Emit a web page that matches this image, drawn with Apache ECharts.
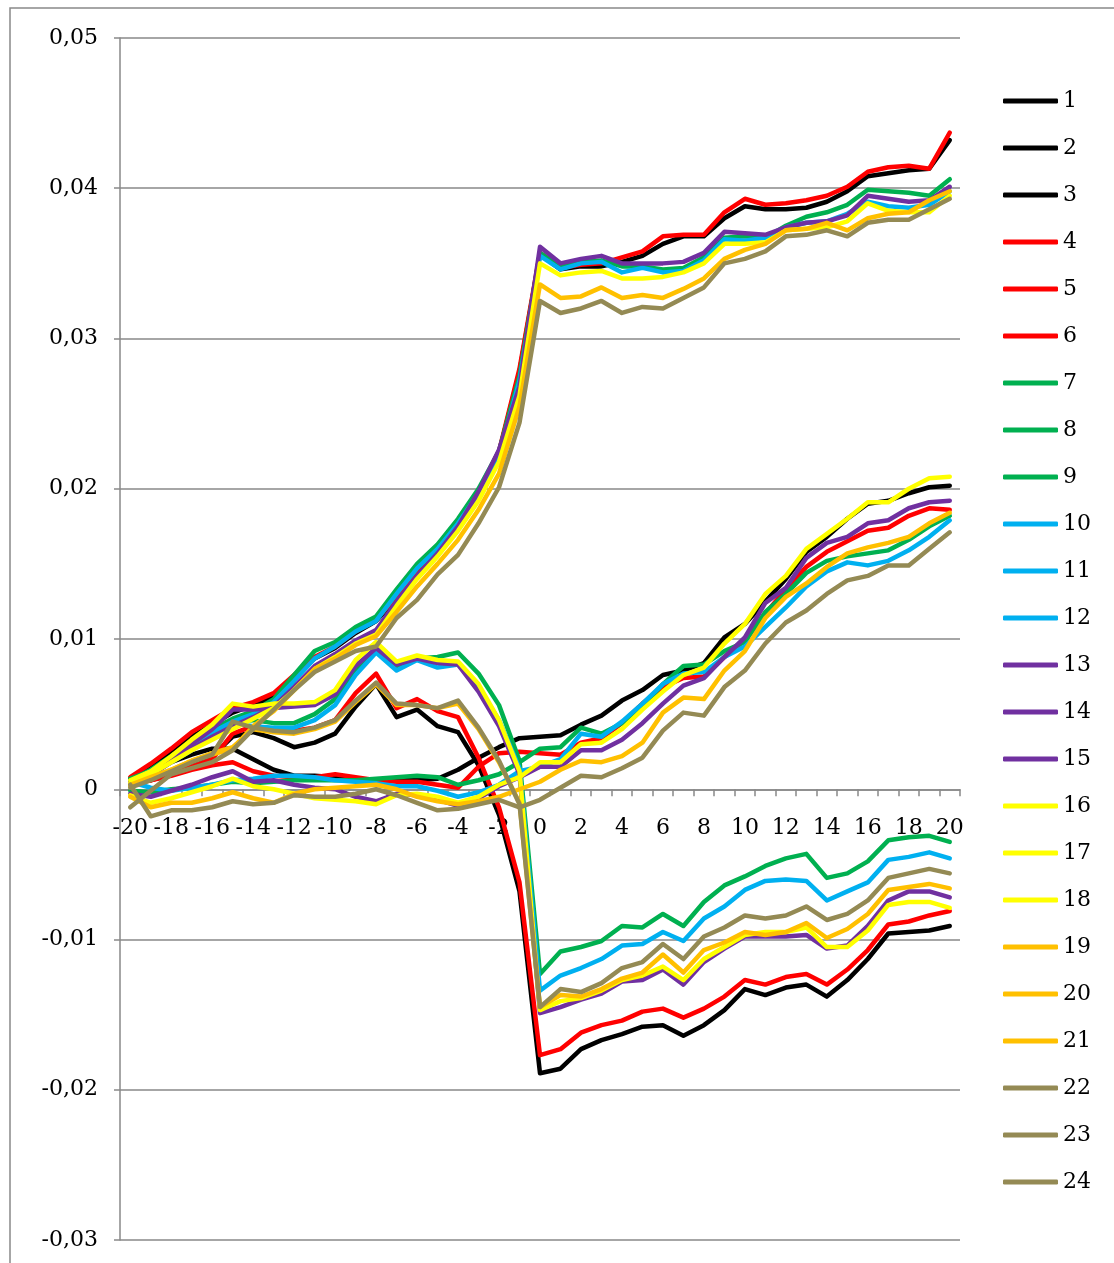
<!DOCTYPE html>
<html>
<head>
<meta charset="utf-8">
<script src="https://cdn.jsdelivr.net/npm/echarts@6/dist/echarts.min.js"></script>
<style>
  html, body { margin: 0; padding: 0; background: #ffffff; }
  #chart { width: 1114px; height: 1263px; }
</style>
</head>
<body>
<div id="chart"></div>
<script>
// Event window, days relative to the event
const categories = ['-20','-19','-18','-17','-16','-15','-14','-13','-12','-11','-10','-9','-8','-7','-6','-5','-4','-3','-2','-1',
  '0','1','2','3','4','5','6','7','8','9','10','11','12','13','14','15','16','17','18','19','20'];

const s01 = [0.0007,0.0015,0.0025,0.0035,0.0043,0.0051,0.0056,0.0062,0.0075,0.0087,0.0094,0.0104,0.0112,0.0127,0.0144,0.0159,0.0177,0.0197,0.0224,0.0278,
  0.0356,0.0346,0.0348,0.0348,0.0351,0.0355,0.0363,0.0368,0.0368,0.0380,0.0388,0.0386,0.0386,0.0387,0.0391,0.0398,0.0408,0.0410,0.0412,0.0413,0.0432];
const s02 = [0.0006,0.0012,0.0018,0.0023,0.0027,0.0027,0.0020,0.0013,0.0009,0.0009,0.0008,0.0007,0.0006,0.0006,0.0006,0.0007,0.0013,0.0021,0.0028,0.0034,
  0.0035,0.0036,0.0043,0.0049,0.0059,0.0066,0.0076,0.0079,0.0084,0.0101,0.0110,0.0125,0.0140,0.0158,0.0168,0.0180,0.0190,0.0192,0.0197,0.0201,0.0202];
const s03 = [0.0003,0.0006,0.0011,0.0017,0.0022,0.0035,0.0038,0.0034,0.0028,0.0031,0.0037,0.0055,0.0070,0.0048,0.0053,0.0042,0.0038,0.0016,-0.0017,-0.0068,
  -0.0189,-0.0186,-0.0173,-0.0167,-0.0163,-0.0158,-0.0157,-0.0164,-0.0157,-0.0147,-0.0133,-0.0137,-0.0132,-0.0130,-0.0138,-0.0127,-0.0113,-0.0096,-0.0095,-0.0094,-0.0091];
const s04 = [0.0008,0.0017,0.0027,0.0038,0.0046,0.0054,0.0058,0.0064,0.0076,0.0088,0.0095,0.0105,0.0113,0.0128,0.0145,0.0160,0.0178,0.0198,0.0225,0.0280,
  0.0357,0.0347,0.0349,0.0350,0.0354,0.0358,0.0368,0.0369,0.0369,0.0384,0.0393,0.0389,0.0390,0.0392,0.0395,0.0401,0.0411,0.0414,0.0415,0.0413,0.0437];
const s05 = [0.0005,0.0006,0.0009,0.0013,0.0016,0.0018,0.0012,0.0009,0.0008,0.0008,0.0010,0.0008,0.0006,0.0005,0.0005,0.0003,0.0001,0.0015,0.0024,0.0025,
  0.0024,0.0023,0.0031,0.0034,0.0044,0.0057,0.0068,0.0074,0.0075,0.0088,0.0099,0.0117,0.0133,0.0148,0.0158,0.0165,0.0172,0.0174,0.0182,0.0187,0.0186];
const s06 = [0.0004,0.0006,0.0010,0.0015,0.0020,0.0037,0.0042,0.0039,0.0039,0.0041,0.0046,0.0064,0.0077,0.0054,0.0060,0.0052,0.0048,0.0021,-0.0012,-0.0062,
  -0.0177,-0.0173,-0.0162,-0.0157,-0.0154,-0.0148,-0.0146,-0.0152,-0.0146,-0.0138,-0.0127,-0.0130,-0.0125,-0.0123,-0.0130,-0.0120,-0.0107,-0.0090,-0.0088,-0.0084,-0.0081];
const s07 = [0.0006,0.0013,0.0022,0.0031,0.0040,0.0047,0.0052,0.0060,0.0076,0.0092,0.0098,0.0108,0.0115,0.0133,0.0150,0.0163,0.0180,0.0200,0.0225,0.0275,
  0.0357,0.0348,0.0351,0.0352,0.0348,0.0348,0.0346,0.0347,0.0354,0.0367,0.0368,0.0367,0.0375,0.0381,0.0384,0.0389,0.0399,0.0398,0.0397,0.0395,0.0406];
const s08 = [-0.0001,-0.0002,0.0000,0.0001,0.0003,0.0005,0.0004,0.0005,0.0006,0.0006,0.0006,0.0006,0.0007,0.0008,0.0009,0.0008,0.0003,0.0006,0.0010,0.0018,
  0.0027,0.0028,0.0041,0.0037,0.0044,0.0055,0.0070,0.0082,0.0083,0.0092,0.0098,0.0118,0.0130,0.0144,0.0152,0.0155,0.0157,0.0159,0.0166,0.0175,0.0182];
const s09 = [0.0007,0.0012,0.0020,0.0028,0.0036,0.0045,0.0046,0.0044,0.0044,0.0050,0.0060,0.0080,0.0093,0.0082,0.0087,0.0088,0.0091,0.0077,0.0056,0.0019,
  -0.0123,-0.0108,-0.0105,-0.0101,-0.0091,-0.0092,-0.0083,-0.0091,-0.0075,-0.0064,-0.0058,-0.0051,-0.0046,-0.0043,-0.0059,-0.0056,-0.0048,-0.0034,-0.0032,-0.0031,-0.0035];
const s10 = [0.0005,0.0012,0.0020,0.0029,0.0038,0.0045,0.0050,0.0058,0.0072,0.0087,0.0095,0.0105,0.0112,0.0130,0.0147,0.0160,0.0177,0.0197,0.0222,0.0272,
  0.0355,0.0346,0.0350,0.0351,0.0344,0.0347,0.0344,0.0345,0.0352,0.0366,0.0365,0.0367,0.0374,0.0377,0.0378,0.0383,0.0391,0.0388,0.0387,0.0389,0.0398];
const s11 = [0.0005,0.0001,-0.0001,0.0001,0.0003,0.0006,0.0007,0.0009,0.0009,0.0008,0.0006,0.0005,0.0004,0.0002,0.0002,-0.0001,-0.0005,-0.0002,0.0003,0.0012,
  0.0015,0.0020,0.0037,0.0035,0.0045,0.0057,0.0070,0.0077,0.0078,0.0088,0.0095,0.0108,0.0121,0.0135,0.0145,0.0151,0.0149,0.0152,0.0159,0.0168,0.0179];
const s12 = [0.0005,0.0010,0.0018,0.0026,0.0035,0.0044,0.0042,0.0041,0.0041,0.0046,0.0056,0.0076,0.0091,0.0079,0.0086,0.0081,0.0083,0.0068,0.0046,0.0014,
  -0.0134,-0.0124,-0.0119,-0.0113,-0.0104,-0.0103,-0.0095,-0.0101,-0.0086,-0.0078,-0.0067,-0.0061,-0.0060,-0.0061,-0.0074,-0.0068,-0.0062,-0.0047,-0.0045,-0.0042,-0.0046];
const s13 = [0.0005,0.0011,0.0019,0.0027,0.0035,0.0042,0.0048,0.0055,0.0068,0.0082,0.0090,0.0099,0.0106,0.0125,0.0142,0.0157,0.0175,0.0198,0.0226,0.0268,
  0.0361,0.0350,0.0353,0.0355,0.0350,0.0350,0.0350,0.0351,0.0357,0.0371,0.0370,0.0369,0.0374,0.0377,0.0378,0.0382,0.0395,0.0393,0.0391,0.0392,0.0401];
const s14 = [-0.0003,-0.0005,-0.0001,0.0003,0.0008,0.0012,0.0005,0.0006,0.0003,0.0001,0.0000,-0.0005,-0.0008,-0.0003,-0.0004,-0.0007,-0.0011,-0.0006,0.0002,0.0008,
  0.0015,0.0015,0.0026,0.0026,0.0033,0.0044,0.0057,0.0069,0.0074,0.0088,0.0101,0.0124,0.0134,0.0154,0.0164,0.0168,0.0177,0.0179,0.0187,0.0191,0.0192];
const s15 = [0.0004,0.0009,0.0018,0.0030,0.0040,0.0053,0.0053,0.0054,0.0055,0.0056,0.0063,0.0082,0.0094,0.0083,0.0087,0.0084,0.0083,0.0065,0.0042,0.0010,
  -0.0149,-0.0145,-0.0140,-0.0136,-0.0128,-0.0127,-0.0120,-0.0130,-0.0115,-0.0106,-0.0098,-0.0098,-0.0098,-0.0097,-0.0106,-0.0104,-0.0091,-0.0074,-0.0068,-0.0068,-0.0072];
const s16 = [0.0004,0.0010,0.0018,0.0026,0.0033,0.0040,0.0047,0.0054,0.0066,0.0080,0.0088,0.0097,0.0103,0.0122,0.0140,0.0155,0.0172,0.0192,0.0218,0.0262,
  0.0350,0.0342,0.0344,0.0345,0.0340,0.0340,0.0341,0.0344,0.0350,0.0363,0.0363,0.0364,0.0372,0.0373,0.0374,0.0378,0.0390,0.0385,0.0384,0.0384,0.0395];
const s17 = [-0.0004,-0.0009,-0.0006,-0.0002,0.0002,0.0007,0.0002,0.0000,-0.0003,-0.0006,-0.0007,-0.0008,-0.0010,-0.0004,-0.0003,-0.0005,-0.0009,-0.0005,0.0003,0.0008,
  0.0018,0.0018,0.0030,0.0031,0.0040,0.0053,0.0065,0.0076,0.0081,0.0097,0.0110,0.0130,0.0142,0.0160,0.0170,0.0180,0.0191,0.0191,0.0200,0.0207,0.0208];
const s18 = [0.0006,0.0012,0.0022,0.0033,0.0043,0.0057,0.0055,0.0057,0.0057,0.0058,0.0066,0.0086,0.0098,0.0085,0.0089,0.0086,0.0085,0.0070,0.0046,0.0012,
  -0.0147,-0.0141,-0.0139,-0.0134,-0.0127,-0.0124,-0.0118,-0.0127,-0.0113,-0.0105,-0.0097,-0.0095,-0.0095,-0.0092,-0.0105,-0.0105,-0.0094,-0.0077,-0.0075,-0.0075,-0.0079];
const s19 = [0.0003,0.0008,0.0013,0.0019,0.0023,0.0027,0.0042,0.0052,0.0066,0.0080,0.0087,0.0096,0.0102,0.0118,0.0135,0.0150,0.0166,0.0186,0.0210,0.0255,
  0.0336,0.0327,0.0328,0.0334,0.0327,0.0329,0.0327,0.0333,0.0340,0.0353,0.0359,0.0363,0.0372,0.0373,0.0377,0.0372,0.0380,0.0383,0.0384,0.0392,0.0398];
const s20 = [-0.0005,-0.0012,-0.0009,-0.0009,-0.0006,-0.0002,-0.0006,-0.0009,-0.0003,0.0000,0.0001,0.0002,0.0003,0.0000,-0.0005,-0.0008,-0.0010,-0.0008,-0.0005,0.0000,
  0.0005,0.0013,0.0019,0.0018,0.0022,0.0031,0.0051,0.0061,0.0060,0.0079,0.0092,0.0114,0.0128,0.0137,0.0148,0.0157,0.0161,0.0164,0.0168,0.0177,0.0184];
const s21 = [0.0002,0.0007,0.0013,0.0019,0.0024,0.0028,0.0040,0.0038,0.0037,0.0040,0.0045,0.0058,0.0070,0.0056,0.0056,0.0054,0.0057,0.0040,0.0018,-0.0009,
  -0.0145,-0.0137,-0.0138,-0.0133,-0.0126,-0.0122,-0.0110,-0.0122,-0.0107,-0.0102,-0.0095,-0.0097,-0.0095,-0.0089,-0.0099,-0.0093,-0.0083,-0.0067,-0.0065,-0.0063,-0.0066];
const s22 = [-0.0012,-0.0001,0.0010,0.0014,0.0018,0.0026,0.0040,0.0053,0.0066,0.0078,0.0085,0.0092,0.0095,0.0114,0.0126,0.0143,0.0156,0.0177,0.0201,0.0244,
  0.0325,0.0317,0.0320,0.0325,0.0317,0.0321,0.0320,0.0327,0.0334,0.0350,0.0353,0.0358,0.0368,0.0369,0.0372,0.0368,0.0377,0.0379,0.0379,0.0386,0.0393];
const s23 = [0.0003,-0.0018,-0.0014,-0.0014,-0.0012,-0.0008,-0.0010,-0.0009,-0.0004,-0.0005,-0.0005,-0.0003,0.0000,-0.0004,-0.0009,-0.0014,-0.0013,-0.0010,-0.0007,-0.0012,
  -0.0007,0.0001,0.0009,0.0008,0.0014,0.0021,0.0039,0.0051,0.0049,0.0068,0.0079,0.0097,0.0111,0.0119,0.0130,0.0139,0.0142,0.0149,0.0149,0.0160,0.0171];
const s24 = [0.0001,0.0006,0.0012,0.0018,0.0023,0.0045,0.0041,0.0039,0.0038,0.0041,0.0046,0.0059,0.0071,0.0057,0.0056,0.0054,0.0059,0.0041,0.0019,-0.0010,
  -0.0145,-0.0133,-0.0135,-0.0129,-0.0119,-0.0115,-0.0103,-0.0113,-0.0098,-0.0092,-0.0084,-0.0086,-0.0084,-0.0078,-0.0087,-0.0083,-0.0074,-0.0059,-0.0056,-0.0053,-0.0056];

const seriesNames = ['1','2','3','4','5','6','7','8','9','10','11','12','13','14','15','16','17','18','19','20','21','22','23','24'];
const seriesData = [s01,s02,s03,s04,s05,s06,s07,s08,s09,s10,s11,s12,s13,s14,s15,s16,s17,s18,s19,s20,s21,s22,s23,s24];
// three series per colour
const palette = ['#000000','#FF0000','#00B050','#00B0F0','#7030A0','#FFFF00','#FFC000','#948A54'];

const FONT = '"DejaVu Serif", "Liberation Serif", serif';
const AXIS_GRAY = '#898989';

// plot box
const GRID = { left: 120, top: 38, width: 840, height: 1202 };
const Y_MIN = -0.03, Y_MAX = 0.05;
// the category axis crosses the value axis at zero
const X_AXIS_OFFSET = -GRID.height * (0 - Y_MIN) / (Y_MAX - Y_MIN);

const chart = echarts.init(document.getElementById('chart'), null, { renderer: 'canvas' });

chart.setOption({
  animation: false,
  backgroundColor: '#ffffff',
  graphic: [{
    type: 'rect',
    silent: true,
    z: -10,
    shape: { x: 10, y: 8, width: 1200, height: 1300 },
    style: { fill: 'none', stroke: AXIS_GRAY, lineWidth: 1.5 }
  }],
  grid: Object.assign({ containLabel: false, outerBoundsMode: 'none' }, GRID),
  legend: {
    orient: 'vertical',
    left: 1003,
    top: 90,
    padding: 0,
    icon: 'roundRect',
    itemWidth: 55,
    itemHeight: 5,
    itemGap: 25,
    textStyle: { fontFamily: FONT, fontSize: 22, lineHeight: 22, color: '#000000' },
    data: seriesNames
  },
  xAxis: {
    type: 'category',
    data: categories,
    boundaryGap: true,
    position: 'bottom',
    offset: X_AXIS_OFFSET,
    axisLine: { onZero: false, lineStyle: { color: AXIS_GRAY, width: 1.5 } },
    axisTick: { show: true, interval: 0, length: 7, lineStyle: { color: AXIS_GRAY, width: 1.5 } },
    axisLabel: { interval: 1, margin: 28, fontFamily: FONT, fontSize: 22, color: '#000000' },
    splitLine: { show: false }
  },
  yAxis: {
    type: 'value',
    min: Y_MIN,
    max: Y_MAX,
    interval: 0.01,
    axisLine: { show: true, lineStyle: { color: AXIS_GRAY, width: 1.5 } },
    axisTick: { show: true, length: 6, lineStyle: { color: AXIS_GRAY, width: 1.5 } },
    axisLabel: {
      margin: 22,
      fontFamily: FONT,
      fontSize: 22,
      color: '#000000',
      formatter: v => (Math.abs(v) < 1e-9 ? '0' : v.toFixed(2).replace('.', ','))
    },
    splitLine: { show: true, lineStyle: { color: AXIS_GRAY, width: 1.5 } }
  },
  series: seriesData.map((d, i) => ({
    name: seriesNames[i],
    type: 'line',
    data: d,
    symbol: 'none',
    smooth: false,
    color: palette[Math.floor(i / 3)],
    lineStyle: { width: 4.5, color: palette[Math.floor(i / 3)], cap: 'round', join: 'round' }
  }))
});
</script>
</body>
</html>
